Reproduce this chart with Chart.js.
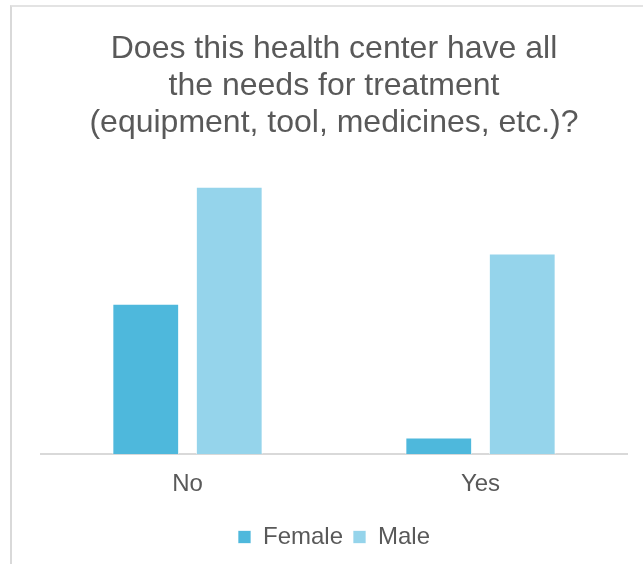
<!DOCTYPE html>
<html>
<head>
<meta charset="utf-8">
<script src="https://cdn.jsdelivr.net/npm/chart.js@4/dist/chart.umd.min.js"></script>
<style>
  body { margin: 0; background: #ffffff; }
  #frame { position: absolute; left: 10px; top: 5px; width: 700px; height: 620px; border-left: 2px solid #d9d9d9; border-top: 2px solid #e3e3e3; }
  #wrap { position: absolute; left: 0; top: 0; width: 643px; height: 564px; }
</style>
</head>
<body>
<div id="frame"></div>
<div id="wrap"><canvas id="myChart" width="643" height="564"></canvas></div>
<script>
// chart data
var answers = ["No", "Yes"]
var femaleCounts = [9, 1]
var maleCounts = [16, 12]
var titleLines = ["Does this health center have all", "the needs for treatment", "(equipment, tool, medicines, etc.)?"]

var textGrey = "#595959"

new Chart(document.getElementById("myChart"), {
    type: 'bar',
    data: {
        labels: answers,
        datasets: [
            {
                label: "Female",
                backgroundColor: "#4eb8dc",
                borderColor: "rgba(255,255,255,0.7)",
                borderWidth: 1,
                data: femaleCounts
            },
            {
                label: "Male",
                backgroundColor: "#95d4eb",
                borderColor: "rgba(255,255,255,0.7)",
                borderWidth: 1,
                data: maleCounts
            }
        ]
    },
    options: {
        responsive: false,
        animation: false,
        layout: { padding: { left: 41, right: 16, top: 0, bottom: 5 } },
        datasets: { bar: { categoryPercentage: 0.57, barPercentage: 0.8 } },
        scales: {
            x: {
                grid: { display: false, drawTicks: false },
                border: { display: true, color: "#d9d9d9", width: 2 },
                ticks: { color: textGrey, padding: 16, font: { family: "Liberation Sans, Arial", size: 24 } }
            },
            y: { display: false, min: 0, max: 18 }
        },
        plugins: {
            title: {
                display: true,
                text: titleLines,
                color: textGrey,
                font: { family: "Liberation Sans, Arial", size: 32, weight: "normal", lineHeight: 1.17 },
                padding: { top: 30, bottom: 11 }
            },
            legend: {
                position: 'bottom',
                labels: {
                    color: textGrey,
                    boxWidth: 13,
                    boxHeight: 13,
                    padding: 10,
                    font: { family: "Liberation Sans, Arial", size: 24 }
                }
            },
            tooltip: { enabled: false }
        }
    }
});
</script>
</body>
</html>
